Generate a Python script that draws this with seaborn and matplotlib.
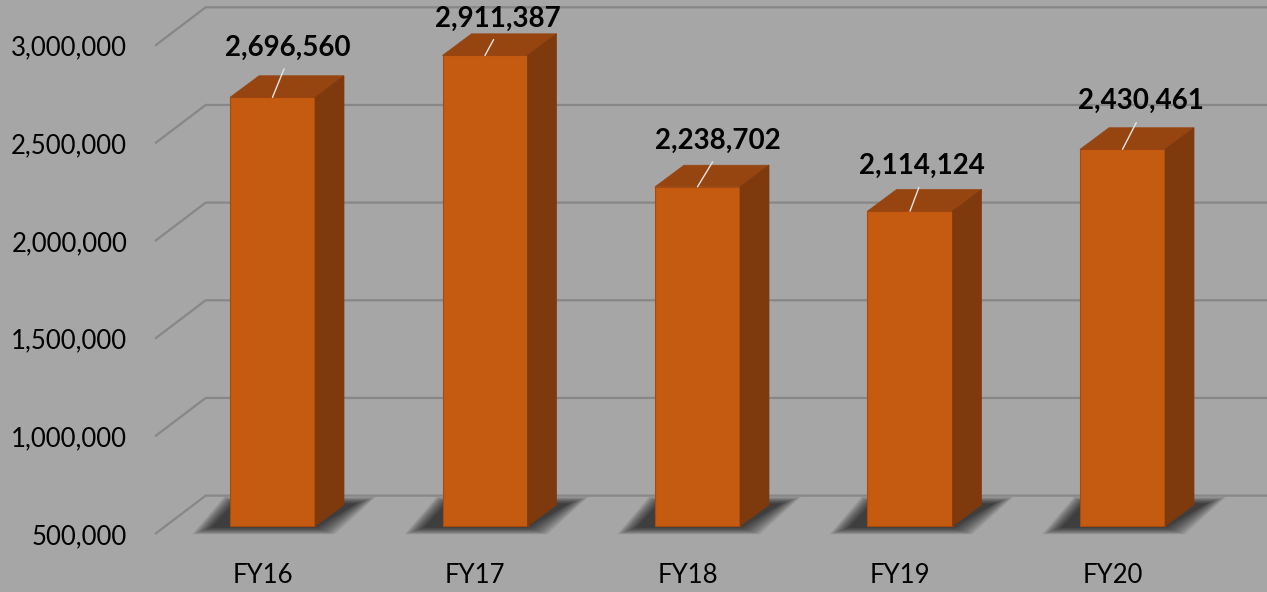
import numpy as np
import pandas as pd
import seaborn as sns
import matplotlib.pyplot as plt
from matplotlib.patches import Polygon
from matplotlib.ticker import FuncFormatter

# data
years = ['FY16', 'FY17', 'FY18', 'FY19', 'FY20']
values = [2696560, 2911387, 2238702, 2114124, 2430461]
y_ticks = [500000, 1000000, 1500000, 2000000, 2500000, 3000000]

# label nudges (pixels right / up) from the front top edge of each bar
label_dx = [15, 13, 20, 12, 18]
label_dy = [50, 37, 46, 45, 48]

BG = '#a6a6a6'
FRONT = '#c55a11'
TOP = '#974510'
SIDE = '#7e390c'
GRID = '#878787'

sns.set_theme(style='white', rc={'axes.facecolor': BG, 'figure.facecolor': BG})
plt.rcParams['font.family'] = ['Lato', 'DejaVu Sans']

W, H = 1267, 592
fig = plt.figure(figsize=(W / 100, H / 100), dpi=100)

# axes box = the plane of the tick labels, in pixels
left, right, top, bottom = 155, 1267, 45.7, 534
ax = fig.add_axes([left / W, 1 - bottom / H, (right - left) / W, (bottom - top) / H])
ymin, ymax = 500000, 3000000
step = 212.5                     # pixels per category
px_x = 1 / step
px_y = (ymax - ymin) / (bottom - top)

df = pd.DataFrame({'year': years, 'value': values})
df['height'] = df['value'] - ymin

sns.barplot(data=df, x='year', y='height', bottom=ymin, width=0.4, color=FRONT,
            saturation=1, edgecolor='#a94b0d', linewidth=0.8, ax=ax, zorder=4)

xl = -(262.5 - left) / step
ax.set_xlim(xl, xl + (right - left) / step)
ax.set_ylim(ymin, ymax)

# back-wall gridlines with the short diagonal to the front
bx, by = 50.7 * px_x, 38.4 * px_y
for v in y_ticks:
    ax.plot([xl, xl + bx, xl + 20], [v, v + by, v + by], color=GRID, lw=1.6,
            clip_on=False, zorder=1, solid_capstyle='butt')

# front faces sit a bit behind the label plane
fx, fy = 10 * px_x, 7.6 * px_y
dx, dy = 29 * px_x, 21.6 * px_y   # bar depth
for p in ax.patches:
    p.set_x(p.get_x() + fx)
    p.set_y(p.get_y() + fy)
    p.set_clip_on(False)

for i, p in enumerate(list(ax.patches)):
    x0, x1 = p.get_x(), p.get_x() + p.get_width()
    y0, y1 = p.get_y(), p.get_y() + p.get_height()
    # blurred floor shadow, thrown to the left
    for e in np.linspace(20, 0, 16):
        ex, ey = e * px_x, e * px_y
        pts = [(x0 - 18 * px_x - ex, y0 - 1 * px_y - 0.35 * ey),
               (x1 + ex, y0 - 1 * px_y - 0.35 * ey),
               (x1 + dx + 12 * px_x + ex, y0 + dy + 1 * px_y + 0.35 * ey),
               (x0 + 4 * px_x - 0.5 * ex, y0 + dy + 1 * px_y + 0.35 * ey)]
        ax.add_patch(Polygon(pts, closed=True, facecolor='black', alpha=0.055,
                             lw=0, zorder=2, clip_on=False))
    ax.add_patch(Polygon([(x0, y1), (x1, y1), (x1 + dx, y1 + dy), (x0 + dx, y1 + dy)],
                         closed=True, facecolor=TOP, edgecolor=TOP, lw=0.5,
                         zorder=4, clip_on=False))
    ax.add_patch(Polygon([(x1, y0), (x1 + dx, y0 + dy), (x1 + dx, y1 + dy), (x1, y1)],
                         closed=True, facecolor=SIDE, edgecolor=SIDE, lw=0.5,
                         zorder=4, clip_on=False))
    ax.annotate(f'{values[i]:,}', xy=((x0 + x1) / 2, y1),
                xytext=(label_dx[i] * 0.72, label_dy[i] * 0.72), textcoords='offset points',
                ha='center', va='center', fontsize=20, fontweight='bold', color='black',
                zorder=6, annotation_clip=False,
                arrowprops=dict(arrowstyle='-', color='#e4e4e4', lw=1,
                                shrinkA=4, shrinkB=0, relpos=(0.5, 0)))

ax.set_yticks(y_ticks)
ax.yaxis.set_major_formatter(FuncFormatter(lambda v, _: f'{int(v):,}'))
ax.tick_params(axis='y', length=0, pad=20, labelsize=18.5, labelcolor='black')
ax.tick_params(axis='x', length=0, pad=21, labelsize=18.5, labelcolor='black')
ax.set_xlabel('')
ax.set_ylabel('')
ax.grid(False)
for s in ax.spines.values():
    s.set_visible(False)

fig.savefig('out.png', dpi=100, facecolor=BG)
